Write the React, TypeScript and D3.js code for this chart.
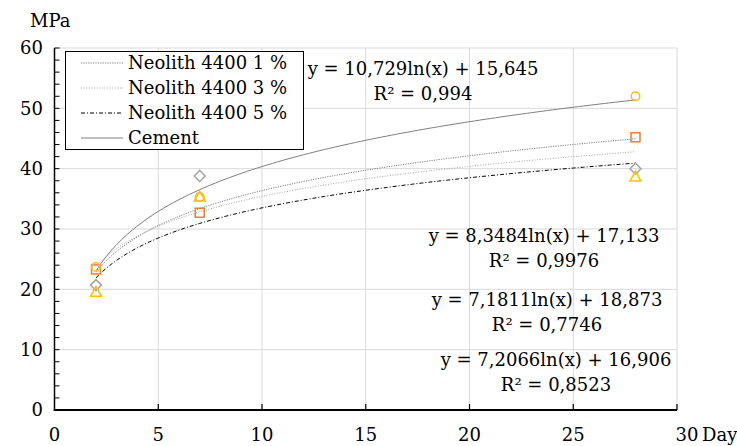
import React from "react";
import * as d3 from "d3";

// Jours de mesure et résistance (MPa)
const days = [2, 7, 28];
const seriesNames = ["Neolith 4400 1 %", "Neolith 4400 3 %", "Neolith 4400 5 %", "Cement"];
const neolith1 = [23.3, 32.7, 45.2];
const neolith3 = [20.7, 38.8, 40.0];
const neolith5 = [19.5, 35.3, 38.6];
const cement = [23.7, 35.3, 52.0];

// Tendances logarithmiques y = a ln(x) + b
const trendA = [8.3484, 7.1811, 7.2066, 10.729];
const trendB = [17.133, 18.873, 16.906, 15.645];
const eqLabels = [
  ["y = 8,3484ln(x) + 17,133", "R² = 0,9976"],
  ["y = 7,1811ln(x) + 18,873", "R² = 0,7746"],
  ["y = 7,2066ln(x) + 16,906", "R² = 0,8523"],
  ["y = 10,729ln(x) + 15,645", "R² = 0,994"],
];

const xTicks = [0, 5, 10, 15, 20, 25, 30];
const yTicks = [0, 10, 20, 30, 40, 50, 60];

const W = 737;
const H = 446;
const FONT = '"DejaVu Serif", serif';
const FS = 18;

const x = d3.scaleLinear().domain([0, 30]).range([54.5, 677]);
const y = d3.scaleLinear().domain([0, 60]).range([410, 48]);

const styles = [
  { stroke: "#7f7f7f", dash: "1.2,1.2", width: 1 },
  { stroke: "#a6a6a6", dash: "1,1.6", width: 1 },
  { stroke: "#000000", dash: "4,2,1,2", width: 1 },
  { stroke: "#7f7f7f", dash: null, width: 1 },
];

// position des étiquettes d'équation (centre, ligne de base)
const eqPos = [
  { cx: 544, y1: 242, y2: 267 },
  { cx: 547, y1: 306, y2: 331 },
  { cx: 556, y1: 366, y2: 391 },
  { cx: 423, y1: 75, y2: 100 },
];

const Marker = ({ kind, cx, cy }: { kind: number; cx: number; cy: number }) => {
  if (kind === 0)
    return <rect x={cx - 4.5} y={cy - 4.5} width={9} height={9} fill="none" stroke="#ED7D31" strokeWidth={1.5} />;
  if (kind === 1)
    return (
      <path
        d={`M${cx},${cy - 5.5}L${cx + 5.5},${cy}L${cx},${cy + 5.5}L${cx - 5.5},${cy}Z`}
        fill="none"
        stroke="#A5A5A5"
        strokeWidth={1.5}
      />
    );
  if (kind === 2)
    return (
      <path
        d={`M${cx},${cy - 6}L${cx + 5.5},${cy + 4}L${cx - 5.5},${cy + 4}Z`}
        fill="none"
        stroke="#FFC000"
        strokeWidth={1.5}
      />
    );
  return <circle cx={cx} cy={cy} r={4.3} fill="none" stroke="#FFC000" strokeWidth={1.5} />;
};

export default function App() {
  const allSeries = [neolith1, neolith3, neolith5, cement];
  const minor = d3.range(0, 61, 2);
  const trendX = d3.range(2, 28.01, 0.25);

  const line = d3.line<number>().x((d) => x(d));

  return (
    <svg
      width={W}
      height={H}
      style={{ position: "absolute", left: 0, top: 0, background: "#fff", fontFamily: FONT }}
    >
      {/* grille */}
      {yTicks.slice(1).map((t) => (
        <line key={"gy" + t} x1={x(0)} x2={x(30)} y1={y(t)} y2={y(t)} stroke="#d9d9d9" strokeWidth={1} />
      ))}
      {xTicks.slice(1).map((t) => (
        <line key={"gx" + t} x1={x(t)} x2={x(t)} y1={y(0)} y2={y(60)} stroke="#d9d9d9" strokeWidth={1} />
      ))}

      {/* courbes de tendance */}
      {trendA.map((a, i) => (
        <path
          key={"tr" + i}
          d={line.y((d) => y(a * Math.log(d) + trendB[i]))(trendX) || ""}
          fill="none"
          stroke={styles[i].stroke}
          strokeWidth={styles[i].width}
          strokeDasharray={styles[i].dash || undefined}
        />
      ))}

      {/* points */}
      {allSeries.map((s, i) =>
        s.map((v, j) => <Marker key={`m${i}-${j}`} kind={i} cx={x(days[j])} cy={y(v)} />)
      )}

      {/* axes */}
      {minor.map((t) => (
        <line key={"mt" + t} x1={x(0)} x2={x(0) + 5} y1={y(t)} y2={y(t)} stroke="#000" strokeWidth={1} />
      ))}
      {xTicks.slice(1).map((t) => (
        <line key={"xt" + t} x1={x(t)} x2={x(t)} y1={y(0)} y2={y(0) - 6} stroke="#000" strokeWidth={1.2} />
      ))}
      <line x1={x(0)} x2={x(0)} y1={y(0) + 1} y2={y(60)} stroke="#000" strokeWidth={1.5} />
      <line x1={x(0) - 0.75} x2={x(30)} y1={y(0)} y2={y(0)} stroke="#000" strokeWidth={2} />

      {yTicks.map((t) => (
        <text key={"yl" + t} x={43} y={y(t)} dy="0.35em" textAnchor="end" fontSize={FS}>
          {t}
        </text>
      ))}
      {xTicks.map((t) => (
        <text key={"xl" + t} x={x(t) + (t === 30 ? 10 : 0)} y={441} textAnchor="middle" fontSize={FS}>
          {t}
        </text>
      ))}
      <text x={30} y={27} fontSize={FS}>
        MPa
      </text>
      <text x={702} y={441} fontSize={FS}>
        Day
      </text>

      {/* équations */}
      {eqLabels.map((lbl, i) => (
        <g key={"eq" + i} fontSize={FS} textAnchor="middle">
          <text x={eqPos[i].cx} y={eqPos[i].y1}>
            {lbl[0]}
          </text>
          <text x={eqPos[i].cx} y={eqPos[i].y2}>
            {lbl[1]}
          </text>
        </g>
      ))}

      {/* légende */}
      <g>
        <rect x={65.5} y={51.5} width={238} height={98} fill="#fff" stroke="#000" strokeWidth={1} />
        {seriesNames.map((n, i) => (
          <g key={"lg" + i} transform={`translate(0, ${63 + i * 25})`}>
            <line
              x1={81}
              x2={123}
              y1={0}
              y2={0}
              stroke={styles[i].stroke}
              strokeWidth={styles[i].width}
              strokeDasharray={styles[i].dash || undefined}
            />
            <text x={128} y={0} dy="0.35em" fontSize={FS}>
              {n}
            </text>
          </g>
        ))}
      </g>
    </svg>
  );
}
